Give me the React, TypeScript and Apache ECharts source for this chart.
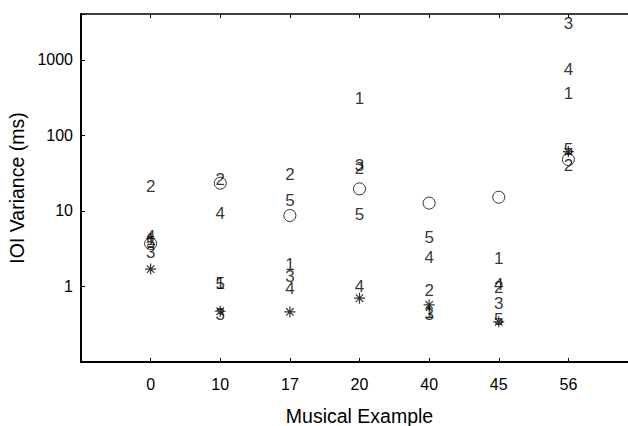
import React, { useEffect, useRef } from "react";
import * as echarts from "echarts";

const categories = ["0", "10", "17", "20", "40", "45", "56"];
const subject1 = [4.2, 1.08, 1.94, 304, 0.45, 2.37, 361];
const subject2 = [21, 26, 30, 37, 0.885, 0.98, 40];
const subject3 = [2.85, 0.42, 1.36, 40, 0.43, 0.6, 2990];
const subject4 = [4.6, 9.3, 0.95, 1.0, 2.44, 1.05, 736];
const subject5 = [3.8, 1.08, 13.6, 8.9, 4.5, 0.37, 65];
const circleValues = [3.7, 23.3, 8.7, 19.6, 12.7, 15.2, 48];
const asteriskValues = [1.7, 0.47, 0.46, 0.7, 0.57, 0.34, 61];
const yTickLabels = ["1", "10", "100", "1000"];

const FONT = "Liberation Sans, Arial, sans-serif";
const ASTERISK =
  "path://M5 0 L5 10 M0 5 L10 5 M1.6 1.6 L8.4 8.4 M1.6 8.4 L8.4 1.6";

function toPairs(vals: number[]) {
  return vals.map((v, i) => [i, v]);
}

function digitSeries(name: string, vals: number[]) {
  return {
    type: "scatter",
    name,
    data: toPairs(vals),
    symbol: "circle",
    symbolSize: 1,
    itemStyle: { color: "rgba(0,0,0,0)" },
    label: {
      show: true,
      position: "inside",
      formatter: name,
      color: "#000",
      textBorderWidth: 0,
      fontSize: 17,
      fontFamily: FONT,
    },
    z: 3,
  };
}

export default function App() {
  const ref = useRef<HTMLDivElement>(null);
  useEffect(() => {
    if (!ref.current) return;
    const chart = echarts.init(ref.current, undefined, { renderer: "svg" });
    const axisLine = { show: true, onZero: false, lineStyle: { color: "#000", width: 2 } };
    const topLine = { show: true, onZero: false, lineStyle: { color: "#000", width: 1.5 } };
    const tick = { show: true, inside: true, length: 4, lineStyle: { color: "#000" } };
    chart.setOption({
      animation: false,
      backgroundColor: "#fff",
      grid: { left: 81, top: 14, width: 557, height: 348, outerBoundsMode: "none", containLabel: false },
      xAxis: [
        {
          type: "value",
          min: -1,
          max: 7,
          interval: 1,
          position: "bottom",
          axisLine,
          axisTick: tick,
          splitLine: { show: false },
          axisLabel: {
            color: "#000",
            fontSize: 16,
            fontFamily: FONT,
            margin: 14,
            formatter: (v: number) => categories[v] ?? "",
          },
          name: "Musical Example",
          nameLocation: "middle",
          nameGap: 44,
          nameTextStyle: { color: "#000", fontSize: 19.5, fontFamily: FONT },
        },
        {
          type: "value",
          min: -1,
          max: 7,
          interval: 1,
          position: "top",
          axisLine: topLine,
          axisTick: tick,
          splitLine: { show: false },
          axisLabel: { show: false },
        },
      ],
      yAxis: [
        {
          type: "log",
          logBase: 10,
          min: 0.1,
          max: 4050,
          position: "left",
          axisLine,
          axisTick: tick,
          splitLine: { show: false },
          axisLabel: {
            color: "#000",
            fontSize: 16,
            fontFamily: FONT,
            margin: 8,
            formatter: (v: number) => {
              const s = String(Math.round(v));
              return v >= 1 && yTickLabels.includes(s) ? s : "";
            },
          },
          name: "IOI Variance (ms)",
          nameLocation: "middle",
          nameGap: 49,
          nameTextStyle: { color: "#000", fontSize: 19.5, fontFamily: FONT },
        },
      ],
      series: [
        digitSeries("1", subject1),
        digitSeries("2", subject2),
        digitSeries("3", subject3),
        digitSeries("4", subject4),
        digitSeries("5", subject5),
        {
          type: "scatter",
          data: toPairs(circleValues),
          symbol: "circle",
          symbolSize: 12,
          itemStyle: { color: "rgba(0,0,0,0)", borderColor: "#000", borderWidth: 1 },
          z: 4,
        },
        {
          type: "scatter",
          data: toPairs(asteriskValues),
          symbol: ASTERISK,
          symbolSize: 11,
          itemStyle: { color: "rgba(0,0,0,0)", borderColor: "#000", borderWidth: 1.2 },
          z: 4,
        },
      ],
    });
    return () => chart.dispose();
  }, []);
  return (
    <div
      ref={ref}
      style={{ position: "fixed", left: 0, top: 0, width: 628, height: 426 }}
    />
  );
}
